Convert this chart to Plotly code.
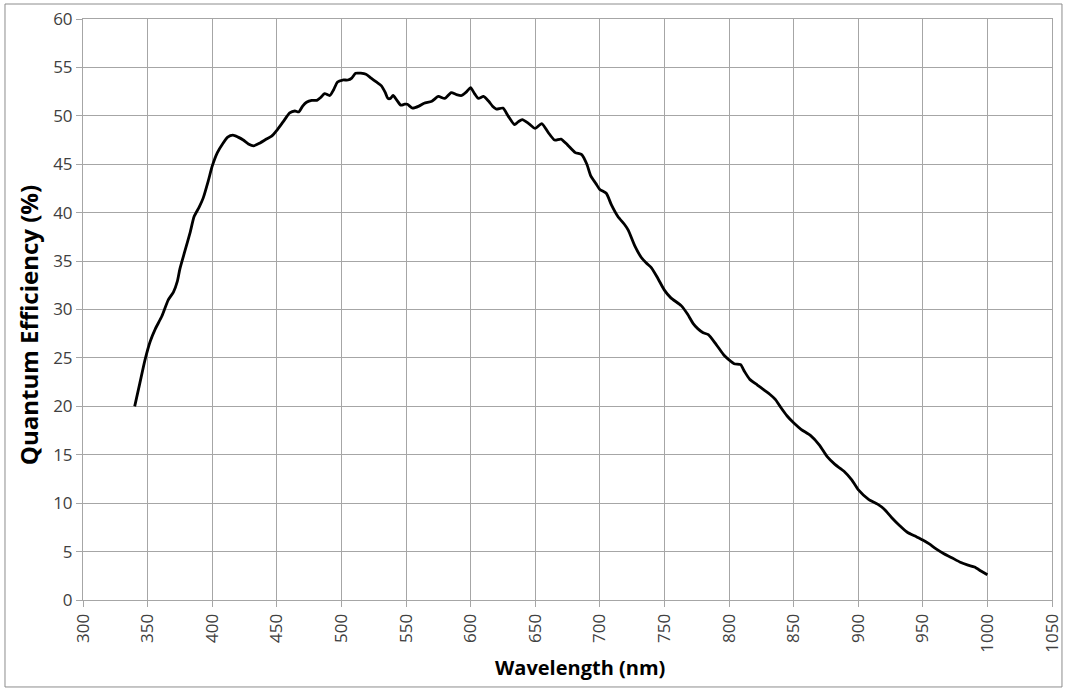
import plotly.graph_objects as go

# wavelength (nm) and quantum efficiency (%)
wavelength = [340, 344, 348, 352, 356, 361, 366, 370, 373, 375, 379, 383, 386, 390, 393, 397,
              400, 404, 408, 412, 416, 420, 424, 428, 432, 437, 442, 446, 450, 455, 460, 464,
              467, 470, 473, 477, 481, 484, 487, 491, 494, 497, 501, 505, 508, 511, 515, 519,
              523, 527, 531, 534, 536, 538, 540, 543, 546, 549, 551, 555, 560, 564, 570, 575,
              580, 585, 589, 593, 597, 600, 603, 606, 610, 614, 617, 620, 625, 629, 634, 637,
              640, 645, 650, 655, 660, 665, 670, 675, 681, 686, 690, 693, 697, 700, 705, 709,
              714, 719, 722, 727, 732, 736, 740, 745, 750, 755, 763, 768, 772, 776, 780, 784,
              790, 796, 800, 804, 809, 812, 816, 822, 827, 832, 836, 840, 845, 850, 856, 863,
              870, 876, 882, 889, 895, 900, 908, 915, 920, 926, 932, 938, 944, 950, 955, 960,
              966, 972, 979, 985, 990, 995, 1000]
qe = [20.0, 22.4, 24.8, 26.7, 28.0, 29.3, 31.0, 31.8, 32.9, 34.2, 36.1, 38.0, 39.6, 40.6, 41.5, 43.3,
      44.8, 46.2, 47.1, 47.8, 48.0, 47.8, 47.5, 47.1, 46.9, 47.2, 47.6, 47.9, 48.5, 49.4, 50.3, 50.5,
      50.4, 51.0, 51.4, 51.6, 51.6, 51.9, 52.3, 52.1, 52.7, 53.5, 53.7, 53.7, 53.9, 54.4, 54.4, 54.3,
      53.9, 53.5, 53.1, 52.4, 51.8, 51.8, 52.1, 51.6, 51.1, 51.2, 51.2, 50.8, 51.0, 51.3, 51.5, 52.0,
      51.8, 52.4, 52.2, 52.1, 52.5, 52.9, 52.3, 51.8, 52.0, 51.5, 51.0, 50.7, 50.8, 50.0, 49.1, 49.4,
      49.6, 49.2, 48.7, 49.2, 48.3, 47.5, 47.6, 47.0, 46.2, 46.0, 45.0, 43.8, 43.0, 42.4, 42.0, 40.8,
      39.6, 38.8, 38.2, 36.6, 35.4, 34.8, 34.3, 33.2, 32.0, 31.2, 30.4, 29.5, 28.6, 28.0, 27.6, 27.4,
      26.4, 25.3, 24.8, 24.4, 24.3, 23.6, 22.8, 22.2, 21.7, 21.2, 20.7, 19.9, 19.0, 18.3, 17.6, 17.0,
      16.0, 14.8, 14.0, 13.3, 12.4, 11.4, 10.4, 9.9, 9.4, 8.5, 7.7, 7.0, 6.6, 6.2, 5.8, 5.3,
      4.8, 4.4, 3.9, 3.6, 3.4, 3.0, 2.6]

x_ticks = list(range(300, 1051, 50))
y_ticks = list(range(0, 61, 5))

grid = "#a6a6a6"
font = "Open Sans"

fig = go.Figure()
fig.add_trace(go.Scatter(x=wavelength, y=qe, mode="lines",
                         line=dict(color="black", width=2.8, shape="spline", smoothing=0.6),
                         showlegend=False, hoverinfo="x+y"))

fig.update_layout(
    width=1065, height=689,
    margin=dict(l=83, r=13, t=19, b=89, autoexpand=False),
    paper_bgcolor="white", plot_bgcolor="white",
    font=dict(family=font, size=17, color="#404040"),
    xaxis=dict(range=[300, 1050], tickvals=x_ticks, tickangle=-90, automargin=False,
               showgrid=True, gridcolor=grid, gridwidth=1,
               showline=True, linecolor=grid, mirror=True, zeroline=False,
               ticks="outside", ticklen=6, tickcolor=grid),
    yaxis=dict(range=[0, 60], tickvals=y_ticks, automargin=False,
               showgrid=True, gridcolor=grid, gridwidth=1,
               showline=True, linecolor=grid, mirror=True, zeroline=False,
               ticks="outside", ticklen=6, tickcolor=grid),
    annotations=[
        dict(text="<b>Wavelength (nm)</b>", xref="paper", yref="paper",
             x=0.513, y=-0.117, xanchor="center", yanchor="middle", showarrow=False,
             font=dict(family=font, size=20, color="black")),
        dict(text="<b>Quantum Efficiency (%)</b>", xref="paper", yref="paper",
             x=-0.0568, y=0.473, xanchor="center", yanchor="middle", showarrow=False,
             textangle=-90, font=dict(family=font, size=24, color="black")),
    ],
    shapes=[dict(type="rect", xref="paper", yref="paper",
                 x0=-0.0805, x1=1.0103, y0=-0.1497, y1=1.0258,
                 line=dict(color="#8c8c8c", width=1), layer="below")],
)

fig.write_html("out.html", config={"displayModeBar": False},
               post_script="document.body.style.margin = '0';")
